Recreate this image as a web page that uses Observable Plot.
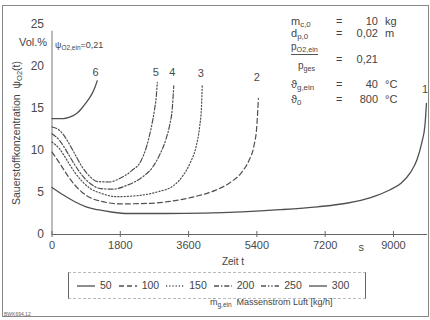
<!DOCTYPE html>
<html><head><meta charset="utf-8">
<script src="https://cdn.jsdelivr.net/npm/d3@7"></script>
<script src="https://cdn.jsdelivr.net/npm/@observablehq/plot@0.6"></script>
<style>
body{margin:0;background:#fff;font-family:"Liberation Sans",Arial,sans-serif;color:#444}
#wrap{position:relative;width:430px;height:320px;overflow:hidden;background:#fff}
.abs{position:absolute;white-space:nowrap;line-height:1}
.sb{font-size:72%;position:relative;top:0.3em}
svg{display:block}
</style></head><body><div id="wrap"></div>
<script>
// ---- data ----
const massFlows = [50, 100, 150, 200, 250, 300];   // kg/h
const curveIds  = ["1", "2", "3", "4", "5", "6"];
const t1 = [0,300,600,900,1200,1600,2000,3000,4000,5000,6000,7000,7800,8400,8900,9200,9450,9620,9750,9830,9870];
const v1 = [5.6,4.7,3.9,3.3,2.95,2.65,2.5,2.5,2.55,2.7,2.95,3.3,3.75,4.4,5.3,6.1,7.4,8.9,11,13,15.6];
const t2 = [0,200,400,600,800,1000,1300,1800,2500,3200,3800,4300,4700,5000,5200,5320,5400,5440];
const v2 = [9.8,8.5,7.1,5.9,5.0,4.4,3.95,3.65,3.7,4.0,4.55,5.25,6.2,7.4,8.9,10.5,13,16.2];
const t3 = [0,200,400,600,800,1000,1300,1700,2200,2800,3200,3450,3650,3800,3890,3940,3960];
const v3 = [11.0,10.2,8.8,7.4,6.3,5.5,4.9,4.5,4.6,5.1,5.8,7.0,8.6,10.5,12.8,15.2,17.7];
const t4 = [0,200,400,600,800,1000,1300,1600,2000,2400,2650,2850,3000,3100,3170,3210];
const v4 = [12.0,11.2,9.8,8.3,7.0,6.1,5.45,5.4,5.9,6.9,8.0,9.6,11.3,13,15,17.7];
const t5 = [0,200,400,600,800,1000,1200,1500,1800,2100,2350,2500,2620,2700,2750,2775];
const v5 = [12.8,12.4,11.2,9.6,8.0,6.9,6.3,6.25,6.7,7.6,8.8,10.6,12.8,14.8,16.5,18.1];
const t6 = [0,300,450,560,664,780,883,980,1060,1130,1191];
const v6 = [13.8,13.8,13.95,14.15,14.45,15.0,15.6,16.2,16.8,17.5,18.3];
const labelY = [17.3, 18.7, 19.2, 19.3, 19.3, 19.3];
const xTicks = [0, 1800, 3600, 5400, 7200, 9000];
const yTicks = [0, 5, 10, 15, 20, 25];
const xUnitAt = 8150;

// ---- build tables ----
const times = [t1, t2, t3, t4, t5, t6];
const vals  = [v1, v2, v3, v4, v5, v6];
const dashes = [null, "5,3", "1.2,2", "5,2,1.3,2", "5,2,1.3,2,1.3,2", null];
const series = curveIds.map((id, i) => ({
  id, flow: massFlows[i], dash: dashes[i],
  rows: times[i].map((t, j) => ({t, v: vals[i][j], id}))
}));
const labels = series.map((s, i) => ({t: s.rows[s.rows.length - 1].t, v: labelY[i], id: s.id}));

const ink = "#4a4a4a";
const chart = Plot.plot({
  width: 430, height: 268,
  marginLeft: 51.5, marginRight: 2.9, marginTop: 24, marginBottom: 34,
  x: {domain: [0, 9900]},
  y: {domain: [0, 25]},
  style: {fontFamily: "'Liberation Sans', Arial, sans-serif", color: ink, background: "transparent"},
  marks: [
    Plot.ruleY([0], {stroke: "#666", strokeWidth: 1}),
    Plot.ruleX([0], {y1: 0, y2: 24.2, stroke: "#777", strokeWidth: 1}),
    Plot.ruleX(xTicks, {x: d => d, y1: 0, y2: 0.35, stroke: "#666"}),
    Plot.axisX({ticks: xTicks, tickSize: 3, tickPadding: 4, fontSize: 11, label: null, stroke: "#666", tickFormat: d => String(d)}),
    Plot.axisY({ticks: yTicks, tickSize: 0, tickPadding: 8, fontSize: 12, label: null}),
    Plot.text([xUnitAt], {x: d => d, y: 0, dy: 13, text: () => "s", fontSize: 11, fill: ink}),
    ...series.map(s => Plot.line(s.rows, {
      x: "t", y: "v", stroke: "#505050", strokeWidth: s.dash ? 1.2 : 1.3,
      strokeDasharray: s.dash || undefined, curve: "monotone-x"
    })),
    Plot.text(labels, {x: "t", y: "v", text: "id", fontSize: 11, fill: ink, dx: -1.5})
  ]
});
const wrap = document.getElementById("wrap");
wrap.appendChild(chart);

function add(html, style) {
  const d = document.createElement("div");
  d.className = "abs"; d.innerHTML = html;
  Object.assign(d.style, style); wrap.appendChild(d); return d;
}
// frame
add("", {left: "2px", top: "5px", width: "427px", height: "312px", border: "1px solid #888", boxSizing: "border-box"});
// y label & unit
add("Vol.%", {left: "19px", top: "37px", fontSize: "11px"});
add('Sauerstoffkonzentration &nbsp;ψ<span class="sb">O2</span>(t)',
    {left: "16px", top: "133px", fontSize: "10.5px", transform: "translate(-50%,-50%) rotate(-90deg)"});
add('ψ<span class="sb">O2,ein</span>=0,21', {left: "55px", top: "41px", fontSize: "9px"});
// x label
add("Zeit t", {left: "233px", top: "257px", fontSize: "10px", transform: "translateX(-50%)"});
// parameter block
const rowTop = (c) => (c - 6) + "px";
add('m<span class="sb">c,0</span>', {left: "291px", top: rowTop(22), fontSize: "11px"});
add('d<span class="sb">p,0</span>', {left: "291px", top: rowTop(34), fontSize: "11px"});
add('<span style="display:inline-block;border-bottom:1px solid #555;padding-bottom:2px">p<span class="sb">O2,ein</span></span>', {left: "291px", top: rowTop(48), fontSize: "10px"});
add('p<span class="sb">ges</span>', {left: "298px", top: rowTop(67), fontSize: "10px"});
add('ϑ<span class="sb">g,ein</span>', {left: "291px", top: rowTop(85), fontSize: "11px"});
add('ϑ<span class="sb">0</span>', {left: "291px", top: rowTop(100), fontSize: "11px"});
[22, 34, 60, 85, 100].forEach(c => add("=", {left: "336px", top: rowTop(c), fontSize: "11px"}));
const pv = [["10", 22], ["0,02", 34], ["0,21", 60], ["40", 85], ["800", 100]];
pv.forEach(([s, c]) => add(s, {right: "52px", top: rowTop(c), fontSize: "11px", textAlign: "right"}));
[["kg", 22], ["m", 34], ["°C", 85], ["°C", 100]].forEach(([s, c]) => add(s, {left: "385px", top: rowTop(c), fontSize: "11px"}));
// legend
const leg = add("", {left: "68px", top: "272px", width: "298px", height: "27px", boxSizing: "border-box",
  borderLeft: "1px solid #666", borderRight: "1px solid #666", borderTop: "1px dashed #bbb", borderBottom: "1px dashed #bbb",
  display: "flex", alignItems: "center", paddingLeft: "8px", fontSize: "10.5px"});
series.forEach(s => {
  const it = document.createElement("span");
  it.style.cssText = "display:inline-flex;align-items:center;margin-right:7px";
  it.innerHTML = `<svg width="18" height="6" style="margin-right:5px"><line x1="0" x2="18" y1="3" y2="3" stroke="#505050" stroke-width="1.3" ${s.dash ? `stroke-dasharray="${s.dash}"` : ""}/></svg>${s.flow}`;
  leg.appendChild(it);
});
add('ṁ<span class="sb">g,ein</span>&nbsp; Massenstrom Luft [kg/h]', {left: "210px", top: "298px", fontSize: "9px"});
add("BWK694.12", {left: "4px", top: "312px", fontSize: "5px", color: "#666"});
</script></body></html>
